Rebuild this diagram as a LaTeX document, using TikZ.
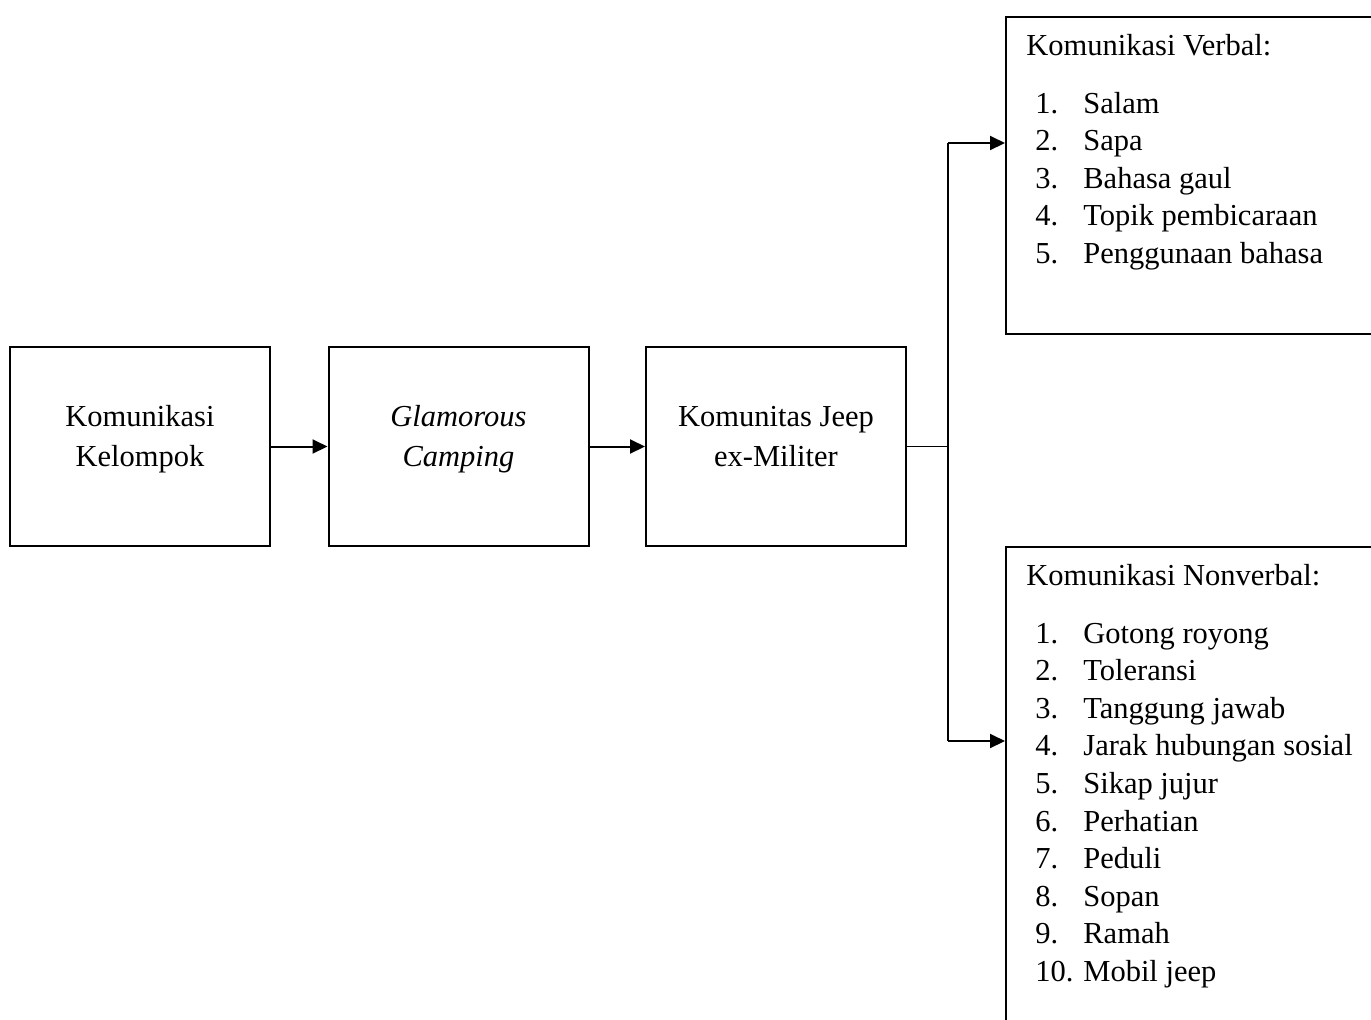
\documentclass[tikz,border=0pt]{standalone}
\usepackage{fontspec}
\setmainfont{Liberation Serif}
\usetikzlibrary{arrows.meta}
\begin{document}
\begin{tikzpicture}[
        x=0.5pt, y=-0.5pt,
        every node/.style={font=\fontsize{15.25}{20}\selectfont},
        kotak/.style={draw, line width=1pt, minimum width=130pt, minimum height=99.5pt, inner sep=0pt},
        isikotak/.style={align=center, yshift=4.25pt, inner sep=0pt},
        daftarbox/.style={draw, line width=1pt, anchor=north west, minimum width=250pt, inner sep=0pt},
        judul/.style={anchor=base west, inner sep=0pt},
        daftar/.style={anchor=base west, inner sep=0pt, font=\fontsize{15.25}{18.8}\selectfont},
        panah/.style={-{Triangle[length=7.5pt,width=7pt]}, line width=1pt},
        garis/.style={line width=0.6pt}
    ]
      \clip (0,0) rectangle (1371,1019);

      % Alur utama
      \node[kotak, label={[isikotak]center:\strut Komunikasi\\\strut Kelompok}] (kk) at (140,446.5) {};
      \node[kotak, label={[isikotak]center:\strut\textit{Glamorous}\\\strut\textit{Camping}}] (gc) at (458.5,446.5) {};
      \node[kotak, label={[isikotak]center:\strut Komunitas Jeep\\\strut ex-Militer}] (kj) at (776,446.5) {};

      \draw[panah] (kk) -- (gc);
      \draw[panah] (gc) -- (kj);

      % Kotak verbal
      \node[daftarbox, minimum height=158.5pt] (verbal) at (1005,16) {};
      \node[judul] (jv) at (1026,55) {Komunikasi Verbal:};
      \node[daftar] (lv) at (1035,113) {\begin{tabular}[t]{@{}p{24pt}@{}l@{}}
        1. & Salam\\
        2. & Sapa\\
        3. & Bahasa gaul\\
        4. & Topik pembicaraan\\
        5. & Penggunaan bahasa
      \end{tabular}};

      % Kotak nonverbal
      \node[daftarbox, minimum height=300pt] (nonverbal) at (1005,546) {};
      \node[judul] (jn) at (1026,585) {Komunikasi Nonverbal:};
      \node[daftar] (ln) at (1035,643) {\begin{tabular}[t]{@{}p{24pt}@{}l@{}}
        1. & Gotong royong\\
        2. & Toleransi\\
        3. & Tanggung jawab\\
        4. & Jarak hubungan sosial\\
        5. & Sikap jujur\\
        6. & Perhatian\\
        7. & Peduli\\
        8. & Sopan\\
        9. & Ramah\\
        10. & Mobil jeep
      \end{tabular}};

      % Percabangan
      \coordinate (cabang) at ([xshift=20.5pt]kj.east);
      \coordinate (masukv) at ([yshift=-63.5pt]verbal.north west);
      \coordinate (masukn) at ([yshift=-97.5pt]nonverbal.north west);
      \draw[garis] (kj.east) -- (cabang);
      \draw[garis] (cabang |- masukv) -- (cabang |- masukn);
      \draw[panah] (cabang |- masukv) -- (masukv);
      \draw[panah] (cabang |- masukn) -- (masukn);
    \end{tikzpicture}
\end{document}
